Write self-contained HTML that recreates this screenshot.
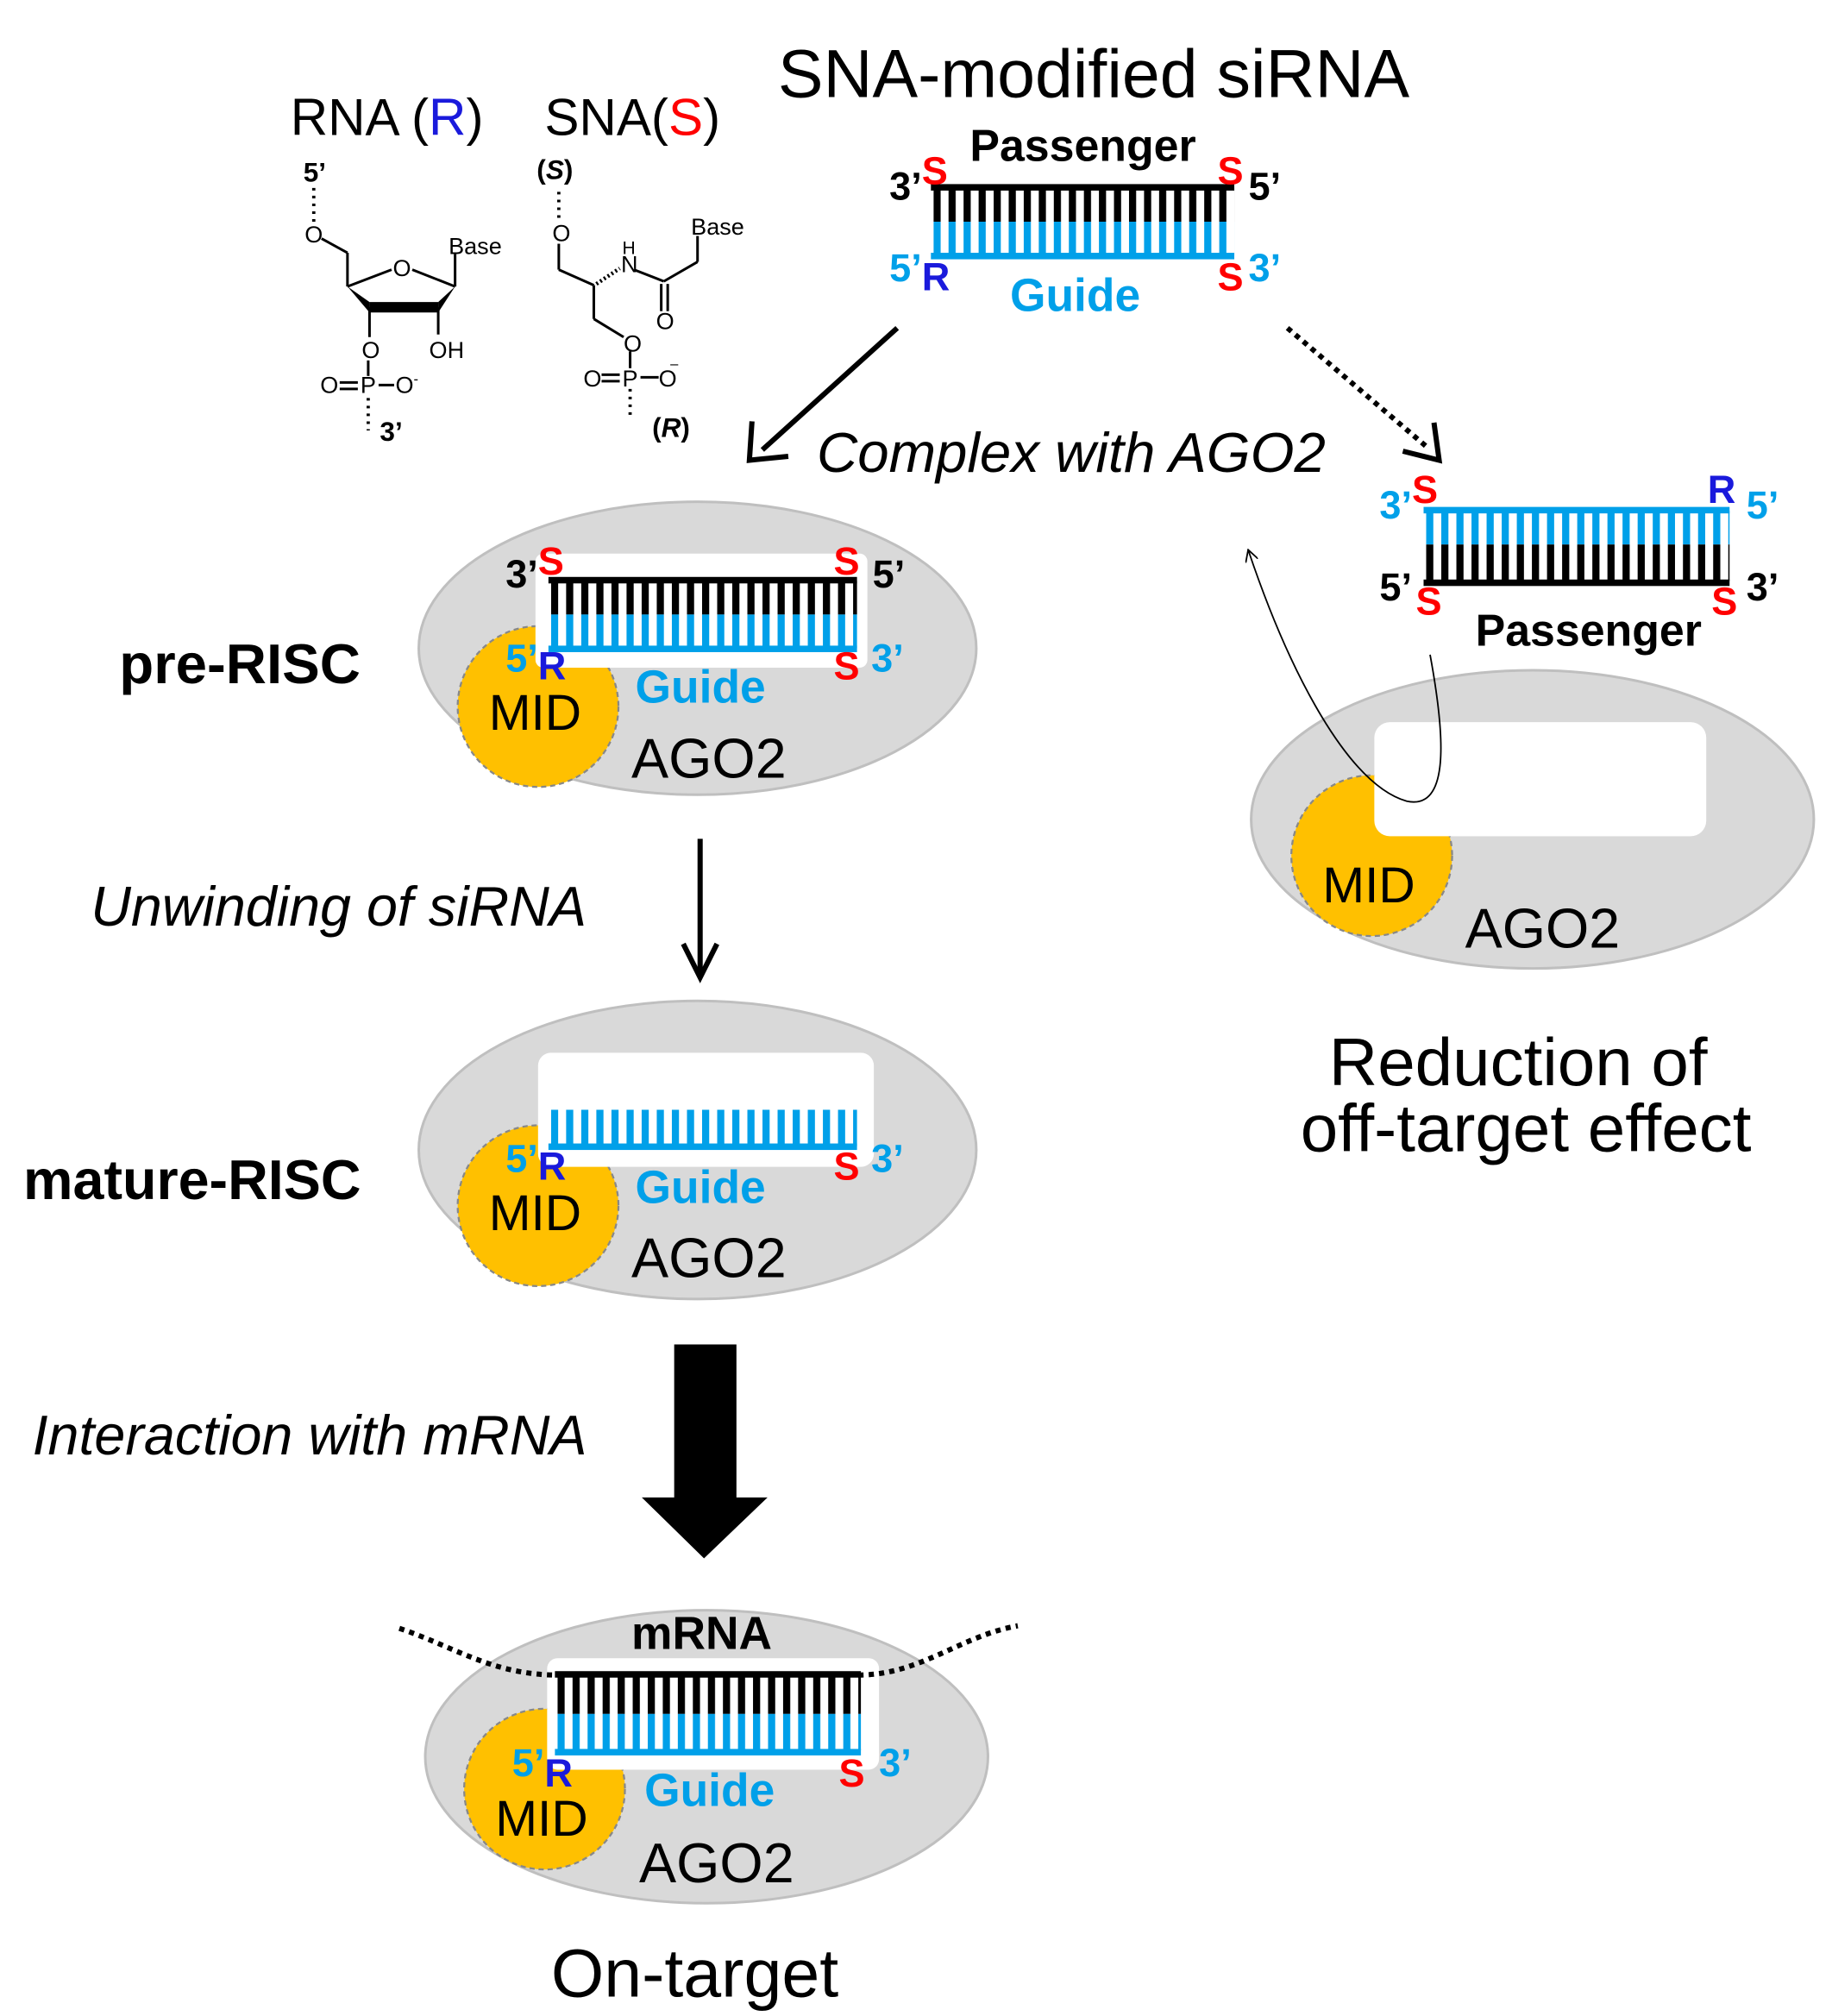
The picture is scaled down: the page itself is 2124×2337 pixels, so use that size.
<!DOCTYPE html>
<html><head><meta charset="utf-8"><style>
html,body{margin:0;padding:0;background:#fff}
svg{display:block}
text{font-family:"Liberation Sans",Arial,sans-serif}
.b{font-weight:bold}
</style></head><body>
<svg width="2124" height="2337" viewBox="0 0 1413 1555" preserveAspectRatio="none" xmlns="http://www.w3.org/2000/svg">
<defs>
<pattern id="pk1" patternUnits="userSpaceOnUse" x="720" y="0" width="11.6" height="10"><rect x="0" y="0" width="5.5" height="10" fill="#000"/></pattern>
<pattern id="pb1" patternUnits="userSpaceOnUse" x="720" y="0" width="11.6" height="10"><rect x="0" y="0" width="5.5" height="10" fill="#00a0e9"/></pattern>
<pattern id="pk2" patternUnits="userSpaceOnUse" x="425" y="0" width="11.65" height="10"><rect x="0" y="0" width="5.5" height="10" fill="#000"/></pattern>
<pattern id="pb2" patternUnits="userSpaceOnUse" x="425" y="0" width="11.65" height="10"><rect x="0" y="0" width="5.5" height="10" fill="#00a0e9"/></pattern>
<pattern id="pk3" patternUnits="userSpaceOnUse" x="430" y="0" width="11.6" height="10"><rect x="0" y="0" width="5.5" height="10" fill="#000"/></pattern>
<pattern id="pb3" patternUnits="userSpaceOnUse" x="430" y="0" width="11.6" height="10"><rect x="0" y="0" width="5.5" height="10" fill="#00a0e9"/></pattern>
<pattern id="pk4" patternUnits="userSpaceOnUse" x="1100" y="0" width="11.65" height="10"><rect x="0" y="0" width="5.5" height="10" fill="#000"/></pattern>
<pattern id="pb4" patternUnits="userSpaceOnUse" x="1100" y="0" width="11.65" height="10"><rect x="0" y="0" width="5.5" height="10" fill="#00a0e9"/></pattern>
<marker id="ah" markerWidth="10" markerHeight="10" refX="8" refY="5" orient="auto" markerUnits="userSpaceOnUse"><path d="M0,0 L9,5 L0,10" fill="none" stroke="#000" stroke-width="1.2"/></marker>
</defs>

<!-- Titles -->
<text x="600" y="75" font-size="52.5">SNA-modified siRNA</text>
<text x="224" y="104" font-size="40">RNA (<tspan fill="#1a1adc">R</tspan>)</text>
<text x="420" y="104" font-size="40">SNA(<tspan fill="#ff0000">S</tspan>)</text>

<!-- RNA structure -->
<g stroke="#000" stroke-width="2" fill="none">
<line x1="242" y1="145" x2="242" y2="172" stroke-dasharray="2,4" stroke-width="2.5"/>
<line x1="248" y1="184" x2="268" y2="195"/>
<line x1="268" y1="195" x2="268" y2="221"/>
<line x1="268" y1="221" x2="302" y2="208"/>
<line x1="318" y1="208" x2="351" y2="221"/>
<line x1="351" y1="221" x2="351" y2="196"/>
<line x1="285" y1="237" x2="285" y2="260"/>
<line x1="338" y1="237" x2="338" y2="258"/>
<line x1="284" y1="278" x2="284" y2="290"/>
<line x1="262" y1="295" x2="276" y2="295"/><line x1="262" y1="300" x2="276" y2="300"/>
<line x1="292" y1="297" x2="304" y2="297"/>
<line x1="284" y1="307" x2="284" y2="332" stroke-dasharray="2,4" stroke-width="2.5"/>
<line x1="431" y1="148" x2="431" y2="171" stroke-dasharray="2,4" stroke-width="2.5"/>
<line x1="431" y1="188" x2="431" y2="208"/>
<line x1="431" y1="208" x2="458" y2="220"/>
<line x1="458" y1="220" x2="458" y2="246"/>
<line x1="458" y1="246" x2="481" y2="260"/>
<line x1="489" y1="208" x2="512" y2="217"/>
<line x1="512" y1="217" x2="538" y2="202"/>
<line x1="538" y1="202" x2="538" y2="182"/>
<line x1="510" y1="219" x2="510" y2="240"/><line x1="515" y1="219" x2="515" y2="240"/>
<line x1="486" y1="271" x2="486" y2="284"/>
<line x1="464" y1="289" x2="478" y2="289"/><line x1="464" y1="294" x2="478" y2="294"/>
<line x1="494" y1="291" x2="508" y2="291"/>
<line x1="486" y1="300" x2="486" y2="322" stroke-dasharray="2,4" stroke-width="2.5"/>
<line x1="460" y1="219" x2="478" y2="207" stroke-dasharray="1.5,2" stroke-width="3"/>
</g>
<polygon points="268,221 285,233 285,241" fill="#000"/>
<polygon points="285,233 338,233 338,241 285,241" fill="#000"/>
<polygon points="351,221 338,233 338,241" fill="#000"/>
<g font-size="18" fill="#000">
<text x="234" y="140" class="b" font-size="21">5’</text>
<text x="235" y="187">O</text>
<text x="303" y="213">O</text>
<text x="346" y="196">Base</text>
<text x="279" y="276">O</text>
<text x="331" y="276">OH</text>
<text x="247" y="303">O</text>
<text x="278" y="303">P</text>
<text x="305" y="303">O</text><text x="319" y="296" font-size="11">-</text>
<text x="293" y="340" class="b" font-size="21">3’</text>
<text x="414" y="138" class="b" font-size="21">(<tspan font-style="italic">S</tspan>)</text>
<text x="426" y="186">O</text>
<text x="480" y="196" font-size="14">H</text>
<text x="479" y="210">N</text>
<text x="506" y="254">O</text>
<text x="533" y="181">Base</text>
<text x="481" y="271">O</text>
<text x="450" y="298">O</text>
<text x="480" y="298">P</text>
<text x="508" y="298">O</text><text x="517" y="284" font-size="11">–</text>
<text x="503" y="337" class="b" font-size="21">(<tspan font-style="italic">R</tspan>)</text>
</g>

<!-- Top duplex -->
<rect x="720" y="145" width="232" height="26" fill="url(#pk1)"/>
<rect x="720" y="171" width="232" height="26" fill="url(#pb1)"/>
<rect x="718" y="142" width="234" height="5" fill="#000"/>
<rect x="718" y="195" width="234" height="5" fill="#00a0e9"/>
<text x="748" y="124" font-size="34.5" class="b">Passenger</text>
<text x="686" y="154" font-size="30" class="b">3’</text>
<text x="711" y="142" font-size="30" class="b" fill="#ff0000">S</text>
<text x="939" y="142" font-size="30" class="b" fill="#ff0000">S</text>
<text x="963" y="154" font-size="30" class="b">5’</text>
<text x="686" y="217" font-size="30" class="b" fill="#00a0e9">5’</text>
<text x="711" y="224" font-size="30" class="b" fill="#1a1adc">R</text>
<text x="939" y="224" font-size="30" class="b" fill="#ff0000">S</text>
<text x="963" y="217" font-size="30" class="b" fill="#00a0e9">3’</text>
<text x="779" y="240" font-size="35.5" class="b" fill="#00a0e9">Guide</text>

<!-- arrows top -->
<line x1="692" y1="253" x2="588" y2="347" stroke="#000" stroke-width="4"/>
<polyline points="580,325 578,355 608,352" fill="none" stroke="#000" stroke-width="4"/>
<line x1="993" y1="253" x2="1102" y2="346" stroke="#000" stroke-width="4" stroke-dasharray="4,4"/>
<polyline points="1082,348 1110,355 1106,326" fill="none" stroke="#000" stroke-width="4"/>
<text x="630" y="364" font-size="43.5" font-style="italic">Complex with AGO2</text>

<!-- pre-RISC -->
<ellipse cx="538" cy="500" rx="215" ry="113" fill="#d9d9d9" stroke="#bfbfbf" stroke-width="2"/>
<circle cx="415" cy="545" r="62" fill="#ffc000" stroke="#888" stroke-width="1.5" stroke-dasharray="4,3"/>
<rect x="413" y="427" width="256" height="88" rx="6" fill="#fff"/>
<rect x="425" y="448" width="236" height="26" fill="url(#pk2)"/>
<rect x="425" y="474" width="236" height="26" fill="url(#pb2)"/>
<rect x="423" y="445" width="238" height="5" fill="#000"/>
<rect x="423" y="498" width="238" height="5" fill="#00a0e9"/>
<text x="390" y="453" font-size="30" class="b">3’</text>
<text x="415" y="443" font-size="30" class="b" fill="#ff0000">S</text>
<text x="643" y="443" font-size="30" class="b" fill="#ff0000">S</text>
<text x="673" y="453" font-size="30" class="b">5’</text>
<text x="390" y="518" font-size="30" class="b" fill="#00a0e9">5’</text>
<text x="415" y="524" font-size="30" class="b" fill="#1a1adc">R</text>
<text x="643" y="524" font-size="30" class="b" fill="#ff0000">S</text>
<text x="672" y="518" font-size="30" class="b" fill="#00a0e9">3’</text>
<text x="490" y="542" font-size="35.5" class="b" fill="#00a0e9">Guide</text>
<text x="377" y="563" font-size="39">MID</text>
<text x="487" y="600" font-size="43">AGO2</text>
<text x="92" y="527" font-size="43.5" class="b">pre-RISC</text>

<line x1="540" y1="647" x2="540" y2="750" stroke="#000" stroke-width="4"/>
<polyline points="527,728 540,754 553,728" fill="none" stroke="#000" stroke-width="4"/>
<text x="70" y="714" font-size="43" font-style="italic">Unwinding of siRNA</text>

<!-- mature-RISC -->
<ellipse cx="538" cy="887" rx="215" ry="115" fill="#d9d9d9" stroke="#bfbfbf" stroke-width="2"/>
<circle cx="415" cy="930" r="62" fill="#ffc000" stroke="#888" stroke-width="1.5" stroke-dasharray="4,3"/>
<rect x="415" y="812" width="259" height="88" rx="10" fill="#fff"/>
<rect x="425" y="856" width="236" height="28" fill="url(#pb2)"/>
<rect x="423" y="882" width="238" height="5" fill="#00a0e9"/>
<text x="390" y="904" font-size="30" class="b" fill="#00a0e9">5’</text>
<text x="415" y="910" font-size="30" class="b" fill="#1a1adc">R</text>
<text x="643" y="910" font-size="30" class="b" fill="#ff0000">S</text>
<text x="672" y="904" font-size="30" class="b" fill="#00a0e9">3’</text>
<text x="490" y="928" font-size="35.5" class="b" fill="#00a0e9">Guide</text>
<text x="377" y="949" font-size="39">MID</text>
<text x="487" y="985" font-size="43">AGO2</text>
<text x="18" y="925" font-size="43" class="b">mature-RISC</text>

<!-- big arrow -->
<polygon points="520,1037 568,1037 568,1155 592,1155 543,1202 495,1155 520,1155" fill="#000"/>
<text x="25" y="1122" font-size="43" font-style="italic">Interaction with mRNA</text>

<!-- On-target -->
<ellipse cx="545" cy="1355" rx="217" ry="113" fill="#d9d9d9" stroke="#bfbfbf" stroke-width="2"/>
<circle cx="420" cy="1380" r="62" fill="#ffc000" stroke="#888" stroke-width="1.5" stroke-dasharray="4,3"/>
<rect x="422" y="1279" width="256" height="86" rx="8" fill="#fff"/>
<path d="M308,1256 C350,1270 380,1292 430,1292" fill="none" stroke="#000" stroke-width="4" stroke-dasharray="4,4"/>
<path d="M662,1292 C710,1292 740,1262 785,1254" fill="none" stroke="#000" stroke-width="4" stroke-dasharray="4,4"/>
<rect x="430" y="1292" width="234" height="30" fill="url(#pk3)"/>
<rect x="430" y="1322" width="234" height="28" fill="url(#pb3)"/>
<rect x="428" y="1289" width="236" height="5" fill="#000"/>
<rect x="428" y="1349" width="236" height="5" fill="#00a0e9"/>
<text x="487" y="1272" font-size="35.5" class="b">mRNA</text>
<text x="395" y="1370" font-size="30" class="b" fill="#00a0e9">5’</text>
<text x="420" y="1378" font-size="30" class="b" fill="#1a1adc">R</text>
<text x="647" y="1378" font-size="30" class="b" fill="#ff0000">S</text>
<text x="678" y="1370" font-size="30" class="b" fill="#00a0e9">3’</text>
<text x="497" y="1393" font-size="35.5" class="b" fill="#00a0e9">Guide</text>
<text x="382" y="1416" font-size="39">MID</text>
<text x="493" y="1452" font-size="43">AGO2</text>
<text x="425" y="1540" font-size="52.5">On-target</text>

<!-- Right side -->
<ellipse cx="1182" cy="632" rx="217" ry="115" fill="#d9d9d9" stroke="#bfbfbf" stroke-width="2"/>
<circle cx="1058" cy="660" r="62" fill="#ffc000" stroke="#888" stroke-width="1.5" stroke-dasharray="4,3"/>
<rect x="1060" y="557" width="256" height="88" rx="12" fill="#fff"/>
<text x="1020" y="696" font-size="39">MID</text>
<text x="1130" y="731" font-size="43">AGO2</text>
<rect x="1100" y="394" width="234" height="26" fill="url(#pb4)"/>
<rect x="1100" y="420" width="234" height="28" fill="url(#pk4)"/>
<rect x="1098" y="391" width="236" height="5" fill="#00a0e9"/>
<rect x="1098" y="447" width="236" height="5" fill="#000"/>
<text x="1064" y="400" font-size="30" class="b" fill="#00a0e9">3’</text>
<text x="1089" y="388" font-size="30" class="b" fill="#ff0000">S</text>
<text x="1317" y="388" font-size="30" class="b" fill="#1a1adc">R</text>
<text x="1347" y="400" font-size="30" class="b" fill="#00a0e9">5’</text>
<text x="1064" y="463" font-size="30" class="b">5’</text>
<text x="1092" y="474" font-size="30" class="b" fill="#ff0000">S</text>
<text x="1320" y="474" font-size="30" class="b" fill="#ff0000">S</text>
<text x="1347" y="463" font-size="30" class="b">3’</text>
<text x="1138" y="498" font-size="34.5" class="b">Passenger</text>
<path d="M1103,505 C1115,570 1118,625 1085,618 C1040,605 995,520 963,425" fill="none" stroke="#000" stroke-width="1.2" marker-end="url(#ah)"/>
<text x="1025" y="837" font-size="52">Reduction of</text>
<text x="1003" y="888" font-size="52">off-target effect</text>
</svg>
</body></html>
